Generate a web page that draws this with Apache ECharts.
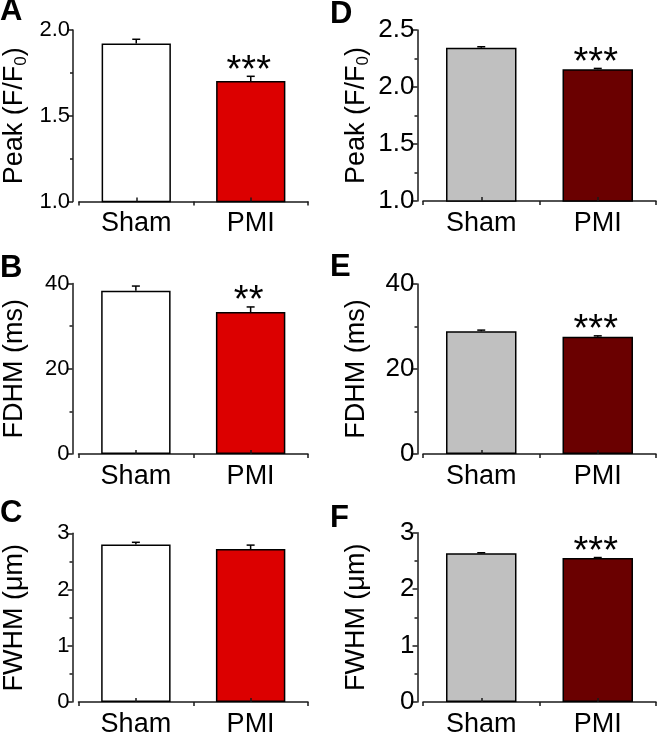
<!DOCTYPE html>
<html>
<head>
<meta charset="utf-8">
<script src="https://cdn.jsdelivr.net/npm/echarts@6/dist/echarts.min.js"></script>
<style>html,body{margin:0;padding:0;background:#fff}#c{width:659px;height:738px}</style>
</head>
<body>
<div id="c"></div>
<script>
const categories = ['Sham', 'PMI'];

const peakLeft = [1.922, 1.703];
const peakLeftErr = [0.024, 0.027];
const fdhmLeft = [38.3, 33.3];
const fdhmLeftErr = [1.1, 1.2];
const fwhmLeft = [2.80, 2.72];
const fwhmLeftErr = [0.04, 0.07];

const peakRight = [2.345, 2.155];
const peakRightErr = [0.008, 0.008];
const fdhmRight = [28.9, 27.6];
const fdhmRightErr = [0.25, 0.2];
const fwhmRight = [2.635, 2.55];
const fwhmRightErr = [0.01, 0.01];

const sigA = ['', '***'];
const sigB = ['', '**'];
const sigC = ['', ''];
const sigD = ['', '***'];
const sigE = ['', '***'];
const sigF = ['', '***'];

const panelLetters = ['A', 'B', 'C', 'D', 'E', 'F'];

const FONT = 'Liberation Sans, Arial, Helvetica, sans-serif';
const leftColors = ['#FFFFFF', '#DC0000'];
const rightColors = ['#C0C0C0', '#6A0000'];

const panels = [
  {vals: peakLeft, errs: peakLeftErr, sig: sigA, colors: leftColors, min: 1, max: 2, interval: 0.5, dec: 1, name: 'peak',
   grid: {left: 77, top: 30, width: 231, height: 171.5}, offset: 6, tickFont: 22},
  {vals: fdhmLeft, errs: fdhmLeftErr, sig: sigB, colors: leftColors, min: 0, max: 40, interval: 20, dec: 0, name: 'fdhm',
   grid: {left: 77, top: 283.5, width: 231, height: 170.5}, offset: 6, tickFont: 22},
  {vals: fwhmLeft, errs: fwhmLeftErr, sig: sigC, colors: leftColors, min: 0, max: 3, interval: 1, dec: 0, name: 'fwhm',
   grid: {left: 77, top: 533.3, width: 231, height: 170}, offset: 6, tickFont: 22},
  {vals: peakRight, errs: peakRightErr, sig: sigD, colors: rightColors, min: 1, max: 2.5, interval: 0.5, dec: 1, name: 'peak',
   grid: {left: 423, top: 30, width: 233, height: 171}, offset: 5.5, tickFont: 26},
  {vals: fdhmRight, errs: fdhmRightErr, sig: sigE, colors: rightColors, min: 0, max: 40, interval: 20, dec: 0, name: 'fdhm',
   grid: {left: 423, top: 284, width: 233, height: 170}, offset: 5.5, tickFont: 26},
  {vals: fwhmRight, errs: fwhmRightErr, sig: sigF, colors: rightColors, min: 0, max: 3, interval: 1, dec: 0, name: 'fwhm',
   grid: {left: 423, top: 532.7, width: 233, height: 170}, offset: 5.5, tickFont: 26}
];

const names = {
  peak: '{a|Peak (F/F}{s|0}{a|)}',
  fdhm: '{a|FDHM (ms)}',
  fwhm: '{a|FWHM (\u03bcm)}'
};

const grids = [], xAxes = [], yAxes = [], series = [];
const AX = '#1a1a1a';

panels.forEach((p, i) => {
  grids.push(Object.assign({containLabel: false}, p.grid));
  xAxes.push({
    type: 'category', gridIndex: i, data: categories, position: 'bottom',
    axisLine: {show: true, lineStyle: {color: AX, width: 1.5}},
    axisTick: {show: true, length: 4, lineStyle: {color: AX, width: 1.5}},
    axisLabel: {color: '#000', fontSize: 27, fontFamily: FONT, margin: 9}
  });
  xAxes.push({
    type: 'category', gridIndex: i, data: categories, position: 'bottom', z: 5,
    axisLine: {show: false},
    axisTick: {show: true, inside: true, alignWithLabel: true, length: 4, lineStyle: {color: AX, width: 1.5}},
    axisLabel: {show: false}
  });
  yAxes.push({
    type: 'value', gridIndex: i, min: p.min, max: p.max, interval: p.interval, offset: p.offset,
    splitLine: {show: false},
    axisLine: {show: true, lineStyle: {color: AX, width: 1.5}},
    axisTick: {show: true, length: 5, lineStyle: {color: AX, width: 1.5}},
    minorTick: {show: true, splitNumber: 2, length: 3, lineStyle: {color: AX, width: 1.5}},
    axisLabel: {color: '#000', fontSize: p.tickFont, fontFamily: FONT, margin: 3,
      formatter: v => v.toFixed(p.dec)},
    name: names[p.name], nameLocation: 'middle', nameRotate: 90, nameGap: p.tickFont === 22 ? 43 : 46,
    nameTextStyle: {
      rich: {
        a: {fontSize: 27, fontFamily: FONT, color: '#000', lineHeight: 30},
        s: {fontSize: 17, fontFamily: FONT, color: '#000', lineHeight: 30, verticalAlign: 'bottom', padding: [12, 0, 0, 0]}
      }
    }
  });
  series.push({
    type: 'bar', xAxisIndex: 2 * i, yAxisIndex: i, barWidth: '60.5%',
    data: p.vals.map((v, k) => ({value: v, itemStyle: {color: p.colors[k]}})),
    itemStyle: {borderColor: '#000', borderWidth: 1.5},
    silent: true, animation: false, z: 2
  });
  series.push({
    type: 'custom', xAxisIndex: 2 * i, yAxisIndex: i, z: 4, animation: false, silent: true,
    data: p.vals.map((v, k) => [k, v, p.errs[k]]),
    renderItem: (params, api) => {
      const k = api.value(0), v = api.value(1), e = api.value(2);
      const base = api.coord([k, v]);
      const top = api.coord([k, v + e]);
      const st = {stroke: '#000', lineWidth: 1.5};
      const children = [
        {type: 'line', shape: {x1: top[0], y1: base[1], x2: top[0], y2: top[1]}, style: st},
        {type: 'line', shape: {x1: top[0] - 4, y1: top[1], x2: top[0] + 4, y2: top[1]}, style: st}
      ];
      const s = p.sig[params.dataIndex];
      if (s) {
        children.push({type: 'text', x: top[0] - 2, y: top[1] - 5,
          style: {text: s, fontSize: 38, fontFamily: FONT, fill: '#000', align: 'center', verticalAlign: 'middle'}});
      }
      return {type: 'group', children};
    }
  });
});

const letterPos = [[0, -4], [0, 253], [0, 498], [330, -1], [330, 252], [330, 503]];
const graphic = panelLetters.map((t, i) => ({
  type: 'text', left: letterPos[i][0], top: letterPos[i][1],
  style: {text: t, fontSize: 31, fontWeight: 'bold', fontFamily: FONT, fill: '#000'}
}));

const chart = echarts.init(document.getElementById('c'), null, {renderer: 'canvas'});
chart.setOption({
  backgroundColor: '#fff', animation: false,
  grid: grids, xAxis: xAxes, yAxis: yAxes, series, graphic
});
</script>
</body>
</html>
